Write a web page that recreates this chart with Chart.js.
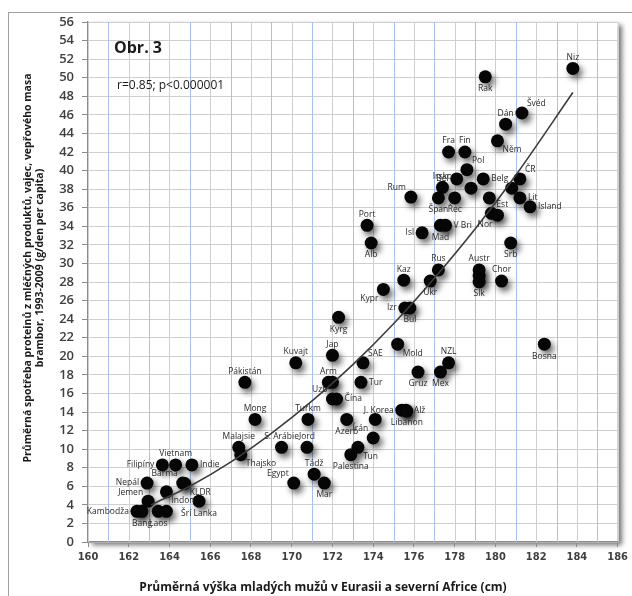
<!DOCTYPE html>
<html>
<head>
<meta charset="utf-8">
<script src="https://cdn.jsdelivr.net/npm/chart.js@4.4.1/dist/chart.umd.min.js"></script>
<style>
  html, body { margin: 0; padding: 0; background: #fff; }
</style>
</head>
<body>
<canvas id="chart" width="632" height="596"></canvas>
<script>
// values (x = height in cm, y = protein g/day)
const countries = [
  "Niz", "Rak", "Švéd", "Dán", "Něm", "Fra", "Fin", "Pol", "Běl", "Belg",
  "ČR", "Irsko", "", "Rum", "Špan", "Řec", "", "", "Lit", "Island",
  "Est", "Nor", "Mad", "V Bri", "Isl", "Port", "Alb", "Srb", "Rus", "Kaz",
  "Ukr", "Austr", "", "Slk", "Chor", "Kypr", "Izr", "Bul", "Kyrg", "Mold",
  "Bosna", "Jap", "SAE", "NZL", "Gruz", "Mex", "Kuvajt", "Arm", "", "Tur",
  "Uzb", "Čína", "J. Korea", "Alž", "Libanon", "Pákistán", "Mong", "Turkm", "Azerb", "",
  "Írán", "Tun", "Palestina", "Malajsie", "Thajsko", "S. Arábie", "Jord", "Tádž", "Egypt", "Mar",
  "Filipíny", "Vietnam", "Indie", "Nepál", "Barma", "KLDR", "Indon", "Jemen", "Šrí Lanka", "Kambodža",
  "Bang", "Laos", "",
];
const heights = [
  183.8, 179.5, 181.3, 180.5, 180.1, 177.7, 178.5, 178.6, 178.1, 179.4,
  181.2, 177.4, 178.8, 175.85, 177.2, 178.0, 179.7, 180.8, 181.2, 181.7,
  179.8, 180.1, 177.3, 177.55, 176.4, 173.7, 173.9, 180.75, 177.2, 175.5,
  176.8, 179.2, 179.2, 179.2, 180.3, 174.5, 175.55, 175.8, 172.3, 175.2,
  182.4, 172.0, 173.5, 177.7, 176.2, 177.3, 170.2, 171.8, 172.0, 173.4,
  172.0, 172.2, 175.4, 175.6, 175.65, 167.7, 168.2, 170.8, 172.7, 174.1,
  174.0, 173.25, 172.9, 167.4, 167.5, 169.5, 170.75, 171.1, 170.1, 171.6,
  163.65, 164.3, 165.1, 162.9, 164.65, 164.75, 163.85, 162.95, 165.45, 162.4,
  162.65, 163.45, 163.85,
];
const protein = [
  51.0, 50.1, 46.2, 45.0, 43.2, 42.0, 42.0, 40.1, 39.1, 39.1,
  39.1, 38.2, 38.1, 37.15, 37.05, 37.05, 37.05, 38.1, 37.05, 36.1,
  35.4, 35.2, 34.1, 34.1, 33.3, 34.1, 32.2, 32.2, 29.3, 28.2,
  28.1, 29.3, 28.7, 28.0, 28.1, 27.2, 25.2, 25.2, 24.2, 21.3,
  21.3, 20.1, 19.3, 19.3, 18.3, 18.3, 19.3, 17.2, 17.2, 17.2,
  15.4, 15.4, 14.2, 14.2, 14.1, 17.2, 13.2, 13.2, 13.2, 13.2,
  11.2, 10.2, 9.4, 10.2, 9.4, 10.2, 10.2, 7.3, 6.35, 6.35,
  8.3, 8.3, 8.3, 6.35, 6.35, 6.3, 5.4, 4.4, 4.4, 3.3,
  3.3, 3.3, 3.3,
];

// trend curve, read at a few spots along the drawn line
const trendX = [163.1, 165, 167, 169, 171, 173, 175, 177, 179, 181, 183.8];
const trendY = [4.0, 6.0, 8.6, 11.7, 15.2, 19.1, 23.5, 28.4, 33.7, 39.5, 48.4];

// axis grid positions
const xGrid = [160, 161, 162, 163, 164, 165, 166, 167, 168, 169, 170, 171, 172, 173,
  174, 175, 176, 177, 178, 179, 180, 181, 182, 183, 184, 185, 186];
const yGrid = [0, 2, 4, 6, 8, 10, 12, 14, 16, 18, 20, 22, 24, 26, 28,
  30, 32, 34, 36, 38, 40, 42, 44, 46, 48, 50, 52, 54, 56];

// where each name sits relative to its dot
const labelSide = [
  "n", "s", "ne", "n", "se", "n", "n", "ne", "w", "e",
  "ne", "n", "", "nw", "s", "s", "", "", "e", "e",
  "ne", "sw", "s", "e", "w", "n", "s", "s", "n", "n",
  "s", "n", "", "s", "n", "sw", "w", "s", "s", "se",
  "s", "n", "ne", "n", "s", "s", "n", "n", "", "e",
  "nw", "e", "w", "e", "s", "n", "n", "n", "s", "",
  "nw", "se", "s", "n", "se", "n", "n", "n", "nw", "s",
  "w", "n", "e", "w", "nw", "se", "se", "nw", "s", "w",
  "s", "s", "",
];

const BLUE_GRID = "#a8c0ea";
const GRAY_GRID = "#cfcfcf";
const AXIS = "#8c8c8c";
const FONT = "'Open Sans', 'Noto Sans', sans-serif";

Chart.defaults.font.family = FONT;

/** Page frame and the shadowed plot area */
const plotFrame = {
  id: "plotFrame",
  beforeDraw(chart) {
    const { ctx, chartArea: a } = chart;
    ctx.save();
    ctx.strokeStyle = "#a0a0a0";
    ctx.lineWidth = 1;
    ctx.strokeRect(8.5, 12.5, 700, 700);
    ctx.shadowColor = "rgba(0,0,0,0.55)";
    ctx.shadowBlur = 5;
    ctx.shadowOffsetX = 4;
    ctx.shadowOffsetY = 3;
    ctx.fillStyle = "#fff";
    ctx.fillRect(a.left, a.top, a.width, a.height);
    ctx.restore();
  },
};

/** Vertical grid, one line per cm, blue on odd values */
const xGridLines = {
  id: "xGridLines",
  beforeDatasetsDraw(chart) {
    const { ctx, chartArea: a, scales } = chart;
    ctx.save();
    ctx.lineWidth = 1;
    xGrid.forEach((v) => {
      const px = Math.round(scales.x.getPixelForValue(v)) + 0.5;
      ctx.strokeStyle = v % 2 !== 0 ? BLUE_GRID : GRAY_GRID;
      ctx.beginPath();
      ctx.moveTo(px, a.top);
      ctx.lineTo(px, a.bottom);
      ctx.stroke();
    });
    ctx.restore();
  },
};

/** Blurred shadow under the black dots */
const dotShadow = {
  id: "dotShadow",
  beforeDatasetDraw(chart, args) {
    if (args.index !== 1) return;
    const ctx = chart.ctx;
    ctx.save();
    ctx.shadowColor = "rgba(0,0,0,0.6)";
    ctx.shadowBlur = 6;
    ctx.shadowOffsetX = 3;
    ctx.shadowOffsetY = 4;
  },
  afterDatasetDraw(chart, args) {
    if (args.index !== 1) return;
    chart.ctx.restore();
  },
};

/** Country names next to the dots */
const offsets = {
  n: [0, -11, "center"], s: [0, 12, "center"],
  e: [8, 0, "left"], w: [-8, 0, "right"],
  ne: [5, -9, "left"], nw: [-5, -9, "right"],
  se: [5, 9, "left"], sw: [-5, 9, "right"],
};
const dotLabels = {
  id: "dotLabels",
  afterDatasetsDraw(chart) {
    const ctx = chart.ctx;
    const meta = chart.getDatasetMeta(1);
    ctx.save();
    ctx.font = "8.5px " + FONT;
    ctx.fillStyle = "#2a2a2a";
    ctx.textBaseline = "middle";
    meta.data.forEach((pt, i) => {
      const side = labelSide[i];
      if (!side || !countries[i]) return;
      const [dx, dy, align] = offsets[side];
      ctx.textAlign = align;
      ctx.fillText(countries[i], pt.x + dx, pt.y + dy);
    });
    ctx.restore();
  },
};

/** Figure caption, statistics and axis titles */
const figureText = {
  id: "figureText",
  afterDraw(chart) {
    const ctx = chart.ctx;
    ctx.save();
    ctx.fillStyle = "#1a1a1a";
    ctx.textBaseline = "middle";
    ctx.textAlign = "left";
    ctx.font = "bold 16px " + FONT;
    ctx.fillText("Obr. 3", 114, 48);
    ctx.font = "12px " + FONT;
    ctx.fillText("r=0.85; p<0.000001", 117, 86);

    ctx.textAlign = "center";
    ctx.font = "bold 12px " + FONT;
    ctx.fillText("Průměrná výška mladých mužů v Eurasii a severní Africe (cm)", 323, 588);

    ctx.translate(0, 268);
    ctx.rotate(-Math.PI / 2);
    ctx.font = "bold 10.5px " + FONT;
    ctx.fillText("Průměrná spotřeba proteinů z mléčných produktů, vajec, vepřového masa", 0, 28);
    ctx.fillText("brambor, 1993-2009 (g/den per capita)", 0, 40);
    ctx.restore();
  },
};

const points = heights.map((h, i) => ({ x: h, y: protein[i] }));
const trend = trendX.map((t, i) => ({ x: t, y: trendY[i] }));

new Chart(document.getElementById("chart").getContext("2d"), {
  type: "scatter",
  data: {
    datasets: [
      {
        label: "trend",
        data: trend,
        showLine: true,
        tension: 0.4,
        cubicInterpolationMode: "monotone",
        pointRadius: 0,
        borderColor: "#3c3c3c",
        borderWidth: 1.6,
      },
      {
        label: "země",
        data: points,
        pointRadius: 6.5,
        pointBackgroundColor: "#060606",
        pointBorderWidth: 0,
      },
    ],
  },
  options: {
    responsive: false,
    animation: false,
    layout: { padding: { top: 22, right: 14, left: 0, bottom: 0 } },
    plugins: {
      legend: { display: false },
      tooltip: { enabled: false },
    },
    scales: {
      x: {
        type: "linear",
        min: 160,
        max: 186,
        afterFit: (s) => { s.height = 54; },
        afterBuildTicks: (s) => { s.ticks = xGrid.filter((v) => v % 2 === 0).map((v) => ({ value: v })); },
        ticks: {
          autoSkip: false,
          maxRotation: 0,
          padding: 4,
          color: "#3f3f3f",
          font: { family: "'Liberation Sans Narrow', 'DejaVu Sans Condensed', sans-serif", size: 11, weight: "bold" },
        },
        grid: { drawOnChartArea: false, tickColor: AXIS, tickLength: 5 },
        border: { color: AXIS, width: 1.5 },
      },
      y: {
        min: 0,
        max: 56,
        afterFit: (s) => { s.width = 88; },
        afterBuildTicks: (s) => { s.ticks = yGrid.map((v) => ({ value: v })); },
        ticks: {
          autoSkip: false,
          padding: 8,
          color: "#3f3f3f",
          font: { size: 13, weight: "600" },
        },
        grid: { color: GRAY_GRID, tickColor: AXIS, tickLength: 6 },
        border: { color: AXIS, width: 1.5 },
      },
    },
  },
  plugins: [plotFrame, xGridLines, dotShadow, dotLabels, figureText],
});
</script>
</body>
</html>
